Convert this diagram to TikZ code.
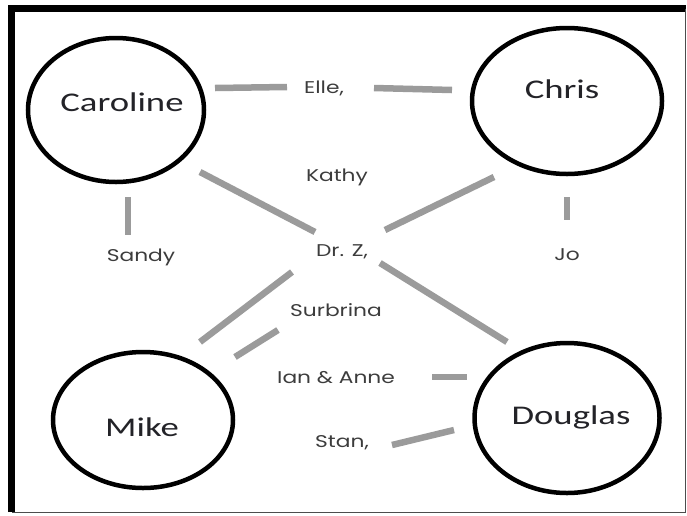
\documentclass[tikz,border=0pt]{standalone}
\usepackage{fontspec}
\setmainfont{Carlito}
\newfontfamily\labelfont{Poppins}
\usetikzlibrary{shapes.geometric}
\definecolor{barcol}{RGB}{155,155,155}
\definecolor{txtcol}{RGB}{35,35,40}
\definecolor{lblcol}{RGB}{60,60,60}
\tikzset{
  person/.style={draw=black, line width=4.5pt, ellipse, inner sep=0pt},
  pname/.style={font=\fontsize{27}{30}\selectfont, text=txtcol, inner sep=0pt, xscale=1.36, transform shape},
  plabel/.style={font=\labelfont\fontsize{17}{20}\selectfont, text=lblcol, inner sep=0pt, xscale=1.28, transform shape},
  bar/.style={draw=barcol, line width=6.5pt}
}
\begin{document}
\begin{tikzpicture}[x=1pt,y=-1pt]
\useasboundingbox (0,0) rectangle (687,515);
% frame
\draw[line width=6.5pt] (11.5,512) -- (11.5,8.5) -- (686,8.5);
\draw[line width=1.2pt, black!70] (685.5,8.5) -- (685.5,512.5) -- (11.5,512.5);
% people
\node[person, minimum width=176pt, minimum height=144pt] (caroline) at (116,110) {};
\node[person, minimum width=190pt, minimum height=146pt] (chris) at (567,101) {};
\node[person, minimum width=180pt, minimum height=136pt] (mike) at (143,420) {};
\node[person, minimum width=185pt, minimum height=150pt] (douglas) at (567,418) {};
\node[pname] (tcaroline) at (122,102) {Caroline};
\node[pname] (tchris) at (562,89) {Chris};
\node[pname] (tmike) at (142,427) {Mike};
\node[pname] (tdouglas) at (571,417) {Douglas};
% labels
\node[plabel] (elle) at (324,88) {Elle,};
\node[plabel] (kathy) at (337,177) {Kathy};
\node[plabel] (drz) at (342,252) {Dr. Z,};
\node[plabel] (surbrina) at (336,310) {Surbrina};
\node[plabel] (ian) at (336,378) {Ian \& Anne};
\node[plabel] (stan) at (342,443) {Stan,};
\node[plabel] (sandy) at (141,257) {Sandy};
\node[plabel] (jo) at (567,255) {Jo};
% bar end points
\coordinate (c1) at (215,88);  \coordinate (e1) at (287,87);
\coordinate (e2) at (374,88);  \coordinate (h1) at (452,90);
\coordinate (c2) at (200,172); \coordinate (z1) at (315,232);
\coordinate (h2) at (494,177); \coordinate (z2) at (385,230);
\coordinate (c3) at (128,197); \coordinate (s1) at (128,235);
\coordinate (h3) at (567,197); \coordinate (j1) at (567,220);
\coordinate (z3) at (292,272); \coordinate (m1) at (200,342);
\coordinate (b1) at (278,330); \coordinate (m2) at (235,357);
\coordinate (z4) at (380,263); \coordinate (d1) at (507,342);
\coordinate (i1) at (432,377); \coordinate (d2) at (467,377);
\coordinate (t1) at (392,445); \coordinate (d3) at (454,430);
% bars
\draw[bar] (c1) -- (e1);
\draw[bar] (e2) -- (h1);
\draw[bar] (c2) -- (z1);
\draw[bar] (h2) -- (z2);
\draw[bar] (c3) -- (s1);
\draw[bar] (h3) -- (j1);
\draw[bar] (z3) -- (m1);
\draw[bar] (b1) -- (m2);
\draw[bar] (z4) -- (d1);
\draw[bar] (i1) -- (d2);
\draw[bar] (t1) -- (d3);
\end{tikzpicture}
\end{document}
